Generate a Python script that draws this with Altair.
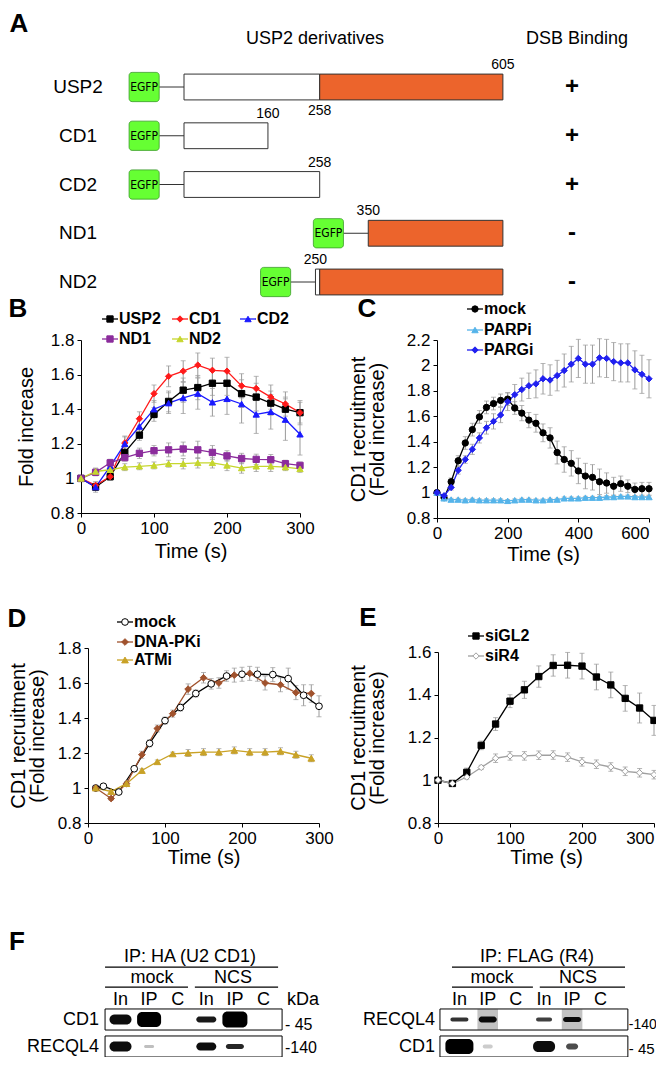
import altair as alt
import pandas as pd

FONT = "Liberation Sans"
NARROW = "Liberation Sans Narrow, DejaVu Sans Condensed, Liberation Sans"
W, H = 648, 1049
ERR = "#9a9a9a"

# ---------------- Panel A data ----------------
constructs = ["USP2", "CD1", "CD2", "ND1", "ND2"]
construct_start = [1, 1, 1, 350, 250]
white_start = [1, 1, 1, None, 250]
white_end = [258, 160, 258, None, 258]
orange_start = [258, None, None, 350, 258]
orange_end = [605, None, None, 605, 605]
dsb_binding = ["+", "+", "+", "-", "-"]
site_construct = ["USP2", "USP2", "CD1", "CD2", "ND1", "ND2"]
site_aa = [605, 258, 160, 258, 350, 250]
site_side = [-1, 1, -1, -1, -1, -1]

# ---------------- Panel B data ----------------
b_names = ["USP2", "CD1", "CD2", "ND1", "ND2"]
b_time = list(range(0, 301, 20))
b_usp2 = [1.0, 0.95, 1.01, 1.15, 1.25, 1.37, 1.445, 1.51, 1.525, 1.55, 1.55, 1.49, 1.47, 1.435, 1.40, 1.38]
b_cd1 = [1.0, 0.96, 1.01, 1.205, 1.345, 1.49, 1.59, 1.62, 1.655, 1.625, 1.62, 1.535, 1.52, 1.47, 1.43, 1.38]
b_cd2 = [1.0, 0.95, 1.07, 1.20, 1.30, 1.40, 1.435, 1.465, 1.49, 1.44, 1.46, 1.43, 1.37, 1.385, 1.34, 1.255]
b_nd1 = [1.0, 1.035, 1.09, 1.12, 1.145, 1.16, 1.165, 1.17, 1.165, 1.15, 1.13, 1.115, 1.11, 1.108, 1.085, 1.075]
b_nd2 = [1.0, 1.04, 1.05, 1.065, 1.07, 1.075, 1.085, 1.085, 1.09, 1.09, 1.075, 1.06, 1.07, 1.07, 1.065, 1.055]
b_err_usp2 = [0, 0.02, 0.02, 0.03, 0.03, 0.04, 0.06, 0.07, 0.07, 0.07, 0.07, 0.08, 0.08, 0.07, 0.07, 0.06]
b_err_cd1 = [0, 0.02, 0.02, 0.04, 0.04, 0.05, 0.06, 0.06, 0.07, 0.07, 0.08, 0.07, 0.07, 0.07, 0.07, 0.07]
b_err_cd2 = [0, 0.03, 0.04, 0.04, 0.04, 0.05, 0.06, 0.09, 0.09, 0.08, 0.09, 0.11, 0.11, 0.10, 0.12, 0.12]
b_err_nd1 = [0, 0.02, 0.02, 0.02, 0.03, 0.03, 0.04, 0.04, 0.05, 0.04, 0.03, 0.03, 0.03, 0.03, 0.02, 0.02]
b_err_nd2 = [0, 0.02, 0.02, 0.02, 0.02, 0.02, 0.02, 0.03, 0.03, 0.03, 0.03, 0.03, 0.03, 0.03, 0.02, 0.02]

# ---------------- Panel C data ----------------
c_names = ["mock", "PARPi", "PARGi"]
c_time = list(range(0, 601, 20))
c_mock = [1.0, 0.96, 1.085, 1.25, 1.39, 1.495, 1.595, 1.67, 1.70, 1.725, 1.735, 1.665, 1.625, 1.57,
          1.545, 1.47, 1.43, 1.315, 1.26, 1.23, 1.17, 1.13, 1.12, 1.085, 1.075, 1.05, 1.07, 1.05,
          1.025, 1.03, 1.03]
c_parpi = [1.0, 0.955, 0.945, 0.945, 0.94, 0.945, 0.94, 0.94, 0.94, 0.94, 0.935, 0.94, 0.945, 0.945,
           0.94, 0.94, 0.945, 0.945, 0.955, 0.955, 0.955, 0.96, 0.96, 0.96, 0.965, 0.965, 0.97, 0.97,
           0.965, 0.965, 0.965]
c_pargi = [1.0, 0.975, 1.04, 1.175, 1.26, 1.34, 1.43, 1.51, 1.56, 1.61, 1.715, 1.77, 1.81, 1.84,
           1.855, 1.895, 1.885, 1.92, 1.96, 2.01, 2.055, 2.01, 2.01, 2.06, 2.055, 2.03, 2.02, 2.02,
           1.965, 1.93, 1.895]
c_err_mock = [0, 0.01, 0.03, 0.04, 0.05, 0.05, 0.05, 0.05, 0.05, 0.05, 0.05, 0.05, 0.06, 0.06, 0.07,
              0.07, 0.08, 0.09, 0.10, 0.10, 0.10, 0.10, 0.10, 0.10, 0.08, 0.07, 0.06, 0.05, 0.05, 0.05, 0.05]
c_err_parpi = [0] + [0.01] * 30
c_err_pargi = [0, 0.01, 0.02, 0.03, 0.03, 0.04, 0.04, 0.05, 0.06, 0.06, 0.07, 0.08, 0.09, 0.10, 0.11,
               0.12, 0.12, 0.12, 0.13, 0.14, 0.15, 0.15, 0.15, 0.15, 0.15, 0.15, 0.15, 0.15, 0.15, 0.15, 0.15]

# ---------------- Panel D data ----------------
d_names = ["mock", "DNA-PKi", "ATMi"]
d_time_mock = [10] + list(range(20, 301, 20))
d_time_inh = list(range(10, 291, 20))
d_mock = [1.0, 1.01, 0.977, 1.11, 1.255, 1.385, 1.46, 1.54, 1.595, 1.64, 1.65, 1.65, 1.648, 1.625, 1.53, 1.467]
d_dnapki = [1.0, 0.94, 1.025, 1.19, 1.34, 1.425, 1.565, 1.63, 1.60, 1.645, 1.655, 1.60, 1.59, 1.545, 1.54]
d_atmi = [1.0, 0.98, 1.025, 1.10, 1.15, 1.195, 1.20, 1.205, 1.205, 1.215, 1.205, 1.205, 1.21, 1.19, 1.17]
d_err_mock = [0, 0.01, 0.01, 0.01, 0.02, 0.02, 0.02, 0.02, 0.03, 0.03, 0.04, 0.04, 0.04, 0.06, 0.06, 0.06]
d_err_dnapki = [0, 0.01, 0.01, 0.02, 0.02, 0.02, 0.03, 0.03, 0.03, 0.04, 0.04, 0.04, 0.04, 0.04, 0.05]
d_err_atmi = [0, 0.01, 0.01, 0.01, 0.01, 0.01, 0.02, 0.02, 0.02, 0.02, 0.02, 0.02, 0.02, 0.02, 0.02]

# ---------------- Panel E data ----------------
e_names = ["siGL2", "siR4"]
e_time = list(range(0, 301, 20))
e_sigl2 = [1.0, 0.985, 1.037, 1.163, 1.263, 1.37, 1.423, 1.485, 1.537, 1.538, 1.534, 1.483, 1.446, 1.383, 1.338, 1.28]
e_sir4 = [1.0, 0.985, 1.015, 1.06, 1.103, 1.114, 1.114, 1.117, 1.118, 1.108, 1.086, 1.075, 1.062, 1.042, 1.035, 1.026]
e_err_sigl2 = [0, 0.01, 0.02, 0.02, 0.03, 0.03, 0.04, 0.05, 0.05, 0.06, 0.06, 0.06, 0.06, 0.06, 0.07, 0.07]
e_err_sir4 = [0, 0.01, 0.01, 0.01, 0.02, 0.02, 0.02, 0.02, 0.02, 0.02, 0.02, 0.02, 0.02, 0.02, 0.02, 0.02]

# ---------------- Panel F data ----------------
f_lane_text = ["In", "IP", "C", "In", "IP", "C"]
f_left_lanes = [0, 1, 2, 3, 4, 5]
f_right_lanes = [11.85, 12.84, 13.82, 14.81, 15.79, 16.78]
f_row_labels = ["CD1", "RECQL4", "RECQL4", "CD1"]
f_row_label_group = ["L", "L", "R", "R"]
f_row_label_row = [0, 1, 0, 1]
f_markers = ["- 45", "-140", "-140", "- 45"]
f_marker_row = [0.2, 1.05, 0.2, 1.08]
f_band_group = ["L"] * 8 + ["R"] * 8
f_band_lane = [0, 1, 3, 4, 0, 1, 3, 4, 0, 1, 3, 4, 0, 1, 3, 4]
f_band_row = [0, 0, 0, 0, 1, 1, 1, 1, 0, 0, 0, 0, 1, 1, 1, 1]
f_band_w = [22, 24, 20, 25, 22, 10, 20, 18, 18, 18, 16, 18, 28, 10, 22, 12]
f_band_h = [10, 15, 6, 16, 10, 3, 8, 5, 4, 6, 4, 5, 15, 4, 11, 6]
f_band_i = [0.95, 1.0, 0.9, 1.0, 0.95, 0.25, 0.95, 0.85, 0.8, 0.95, 0.75, 0.95, 1.0, 0.2, 0.95, 0.7]
f_smear_group = ["R", "R"]
f_smear_lane = [1, 4]
f_smear_row = [0, 0]


# ====================================================================
def tfont(**kw):
    base = dict(font=FONT, color="black")
    base.update(kw)
    return base


# ---------------- Panel A chart ----------------
dfA = pd.DataFrame({"construct": constructs, "row": list(range(len(constructs))),
                    "start": construct_start, "ws": white_start, "we": white_end,
                    "os": orange_start, "oe": orange_end, "dsb": dsb_binding})
xA = alt.Scale(domain=[1, 605], range=[176, 494.9])
yA = alt.Scale(domain=[0, 4], range=[79, 274])
baseA = alt.Chart(dfA).transform_calculate(r1="datum.row - 0.265", r2="datum.row + 0.265",
                                           e1="datum.row - 0.3", e2="datum.row + 0.3",
                                           g1="datum.start - 104", g2="datum.start - 47",
                                           gc="datum.start - 75.5")
a_white = baseA.transform_filter("isValid(datum.ws)").mark_rect(
    fill="white", stroke="#333333", strokeWidth=1).encode(
    x=alt.X("ws:Q", scale=xA, axis=None), x2="we:Q",
    y=alt.Y("r1:Q", scale=yA, axis=None), y2="r2:Q")
a_orange = baseA.transform_filter("isValid(datum.os)").mark_rect(
    fill="#EC642C", stroke="#333333", strokeWidth=1).encode(
    x=alt.X("os:Q", scale=xA, axis=None), x2="oe:Q",
    y=alt.Y("r1:Q", scale=yA, axis=None), y2="r2:Q")
a_link = baseA.mark_rule(color="#333333", strokeWidth=1).encode(
    x=alt.X("g2:Q", scale=xA, axis=None), x2="start:Q",
    y=alt.Y("row:Q", scale=yA, axis=None))
a_egfp = baseA.mark_rect(fill="#66FF33", stroke="#3A9A28", strokeWidth=0.8, cornerRadius=3).encode(
    x=alt.X("g1:Q", scale=xA, axis=None), x2="g2:Q",
    y=alt.Y("e1:Q", scale=yA, axis=None), y2="e2:Q")
a_egfp_t = baseA.mark_text(text="EGFP", **tfont(fontSize=12, font=NARROW)).encode(
    x=alt.X("gc:Q", scale=xA, axis=None), y=alt.Y("row:Q", scale=yA, axis=None))
a_names = baseA.mark_text(**tfont(fontSize=19)).encode(
    x=alt.value(70), y=alt.Y("row:Q", scale=yA, axis=None), text="construct:N")
a_dsb = baseA.mark_text(**tfont(fontSize=24, fontWeight="bold")).encode(
    x=alt.value(564), y=alt.Y("row:Q", scale=yA, axis=None), text="dsb:N")
dfS = pd.DataFrame({"aa": site_aa, "side": site_side,
                    "row": [constructs.index(c) for c in site_construct]})
a_sites = alt.Chart(dfS).transform_calculate(
    ly="datum.row + (datum.side < 0 ? -0.45 : 0.5)", lab="'' + datum.aa").mark_text(
    **tfont(fontSize=14)).encode(
    x=alt.X("aa:Q", scale=xA, axis=None), y=alt.Y("ly:Q", scale=yA, axis=None), text="lab:N")
dfAh = pd.DataFrame({"t": ["USP2 derivatives", "DSB Binding"], "px": [307, 569], "py": [31, 31]})
a_head = alt.Chart(dfAh).mark_text(**tfont(fontSize=18)).encode(
    x=alt.X("px:Q", scale=None, axis=None), y=alt.Y("py:Q", scale=None, axis=None), text="t:N")
panelA = alt.layer(a_white, a_orange, a_link, a_egfp, a_egfp_t, a_names, a_dsb, a_sites, a_head)


# ---------------- line panels ----------------
def line_panel(names, times, values, errors, colors, fills, shapes, size, lay):
    recs = []
    for n, t, v, e in zip(names, times, values, errors):
        for ti, vi, ei in zip(t, v, e):
            recs.append({"s": n, "t": ti, "v": vi, "e": ei})
    df = pd.DataFrame(recs)
    xs = alt.Scale(domain=lay["xdom"], range=lay["xrange"], nice=False, zero=False)
    ys = alt.Scale(domain=lay["ydom"], range=lay["yrange"], nice=False, zero=False)
    common = dict(grid=False, domainColor="black", tickColor="black", labelColor="black",
                  titleColor="black", labelFont=FONT, titleFont=FONT, labelFontSize=17,
                  titleFontSize=20, titleFontWeight="normal", tickSize=4, labelFlush=False,
                  labelOverlap=False, domainWidth=1, tickWidth=1)
    xextra = {}
    if lay.get("last_right") is not None:
        xextra["labelAlign"] = {"condition": {"test": f"datum.value >= {lay['last_right']}",
                                              "value": "right"}, "value": "center"}
    xax = alt.Axis(values=lay["xticks"], title="Time (s)", orient="bottom", offset=lay["xoff"],
                   labelPadding=3, titlePadding=lay["xtp"], **xextra, **common)
    yax = alt.Axis(values=lay["yticks"], format=".1~f", title=lay["ytitle"], orient="left",
                   offset=lay["yoff"], labelPadding=3, titlePadding=lay["ytp"],
                   titleLineHeight=19, **common)

    def X(f):
        return alt.X(f + ":Q", scale=xs, axis=xax)

    def Y(f):
        return alt.Y(f + ":Q", scale=ys, axis=yax)

    col = alt.Scale(domain=names, range=colors)
    fil = alt.Scale(domain=names, range=fills)
    shp = alt.Scale(domain=names, range=shapes)
    base = alt.Chart(df)
    err = base.transform_filter("datum.e > 0").transform_calculate(
        lo="datum.v - datum.e", hi="datum.v + datum.e")
    bars = err.mark_rule(color=ERR, strokeWidth=1).encode(x=X("t"), y=Y("lo"), y2="hi:Q")
    cap_lo = err.mark_tick(color=ERR, thickness=1, size=5, orient="horizontal").encode(x=X("t"), y=Y("lo"))
    cap_hi = err.mark_tick(color=ERR, thickness=1, size=5, orient="horizontal").encode(x=X("t"), y=Y("hi"))
    line = base.mark_line(strokeWidth=1.3).encode(
        x=X("t"), y=Y("v"), color=alt.Color("s:N", scale=col, legend=None))
    pts = base.mark_point(filled=True, opacity=1, fillOpacity=1, strokeWidth=1, size=size).encode(
        x=X("t"), y=Y("v"),
        fill=alt.Fill("s:N", scale=fil, legend=None),
        stroke=alt.Stroke("s:N", scale=col, legend=None),
        shape=alt.Shape("s:N", scale=shp, legend=None))
    leg = pd.DataFrame({"s": names, "lx": lay["leg_x"], "ly": lay["leg_y"]})
    lb = alt.Chart(leg).transform_calculate(a1="datum.lx - 8", a2="datum.lx + 8", tx="datum.lx + 9")
    lrule = lb.mark_rule(strokeWidth=1.3).encode(
        x=alt.X("a1:Q", scale=None, axis=None), x2="a2:Q",
        y=alt.Y("ly:Q", scale=None, axis=None), color=alt.Color("s:N", scale=col, legend=None))
    lpt = lb.mark_point(filled=True, opacity=1, fillOpacity=1, strokeWidth=1, size=size).encode(
        x=alt.X("lx:Q", scale=None, axis=None), y=alt.Y("ly:Q", scale=None, axis=None),
        fill=alt.Fill("s:N", scale=fil, legend=None),
        stroke=alt.Stroke("s:N", scale=col, legend=None),
        shape=alt.Shape("s:N", scale=shp, legend=None))
    ltxt = lb.mark_text(align="left", baseline="middle", **tfont(fontSize=16, fontWeight="bold")).encode(
        x=alt.X("tx:Q", scale=None, axis=None), y=alt.Y("ly:Q", scale=None, axis=None), text="s:N")
    return alt.layer(bars, cap_lo, cap_hi, line, pts, lrule, lpt, ltxt)


panelB = line_panel(
    b_names, [b_time] * 5, [b_usp2, b_cd1, b_cd2, b_nd1, b_nd2],
    [b_err_usp2, b_err_cd1, b_err_cd2, b_err_nd1, b_err_nd2],
    ["#000000", "#FF1A1A", "#1A1AFF", "#8B2C9C", "#C6D62E"],
    ["#000000", "#FF1A1A", "#1A1AFF", "#8B2C9C", "#C6D62E"],
    ["square", "diamond", "triangle-up", "square", "triangle-up"], 40,
    dict(xdom=[0, 300], xrange=[73, 292], ydom=[0.8, 1.8], yrange=[505, 332],
         xticks=[0, 100, 200, 300], yticks=[0.8, 1.0, 1.2, 1.4, 1.6, 1.8],
         ytitle="Fold increase", xoff=505 - H, yoff=-73, ytp=14, xtp=5,
         leg_x=[102, 172, 240, 102, 172], leg_y=[311, 311, 311, 331, 331]))

panelC = line_panel(
    c_names, [c_time] * 3, [c_mock, c_parpi, c_pargi], [c_err_mock, c_err_parpi, c_err_pargi],
    ["#000000", "#55B4EA", "#2020F0"], ["#000000", "#55B4EA", "#2020F0"],
    ["circle", "triangle-up", "diamond"], 40,
    dict(xdom=[0, 600], xrange=[429, 641], ydom=[0.8, 2.2], yrange=[510, 332],
         xticks=[0, 200, 400, 600], yticks=[0.8, 1.0, 1.2, 1.4, 1.6, 1.8, 2.0, 2.2],
         ytitle=["CD1 recruitment", "(Fold increase)"], xoff=510 - H, yoff=-429, ytp=19, xtp=3,
         last_right=600, leg_x=[467, 467, 467], leg_y=[301, 322, 342]))

panelD = line_panel(
    d_names, [d_time_mock, d_time_inh, d_time_inh], [d_mock, d_dnapki, d_atmi],
    [d_err_mock, d_err_dnapki, d_err_atmi],
    ["#000000", "#A0522D", "#C9A227"], ["#FFFFFF", "#A0522D", "#C9A227"],
    ["circle", "diamond", "triangle-up"], 45,
    dict(xdom=[0, 300], xrange=[80, 311], ydom=[0.8, 1.8], yrange=[815, 640],
         xticks=[0, 100, 200, 300], yticks=[0.8, 1.0, 1.2, 1.4, 1.6, 1.8],
         ytitle=["CD1 recruitment", "(Fold increase)"], xoff=815 - H, yoff=-80, ytp=10, xtp=1,
         leg_x=[117, 117, 117], leg_y=[614, 634, 652]))

panelE = line_panel(
    e_names, [e_time] * 2, [e_sigl2, e_sir4], [e_err_sigl2, e_err_sir4],
    ["#000000", "#A0A0A0"], ["#000000", "#FFFFFF"],
    ["square", "diamond"], 40,
    dict(xdom=[0, 300], xrange=[430, 646], ydom=[0.8, 1.6], yrange=[815, 644],
         xticks=[0, 100, 200, 300], yticks=[0.8, 1.0, 1.2, 1.4, 1.6],
         ytitle=["CD1 recruitment", "(Fold increase)"], xoff=815 - H, yoff=-430, ytp=20, xtp=1,
         last_right=300, leg_x=[468, 468], leg_y=[628, 648]))

# ---------------- Panel F chart ----------------
xF = alt.Scale(domain=[0, 5], range=[112.5, 255.5])
yF = alt.Scale(domain=[0, 1], range=[1011.5, 1038.5])
LANE_PX, ROW_PX = 28.6, 27.0
group_lanes = {"L": f_left_lanes, "R": f_right_lanes}


def FX(f):
    return alt.X(f + ":Q", scale=xF, axis=None)


def FY(f):
    return alt.Y(f + ":Q", scale=yF, axis=None)


dfBand = pd.DataFrame({"lane": [group_lanes[g][k] for g, k in zip(f_band_group, f_band_lane)],
                       "row": f_band_row, "w": f_band_w, "h": f_band_h, "i": f_band_i})
f_bands = alt.Chart(dfBand).transform_calculate(
    x1=f"datum.lane - datum.w / {2 * LANE_PX}", x2=f"datum.lane + datum.w / {2 * LANE_PX}",
    y1=f"datum.row - datum.h / {2 * ROW_PX}", y2=f"datum.row + datum.h / {2 * ROW_PX}").mark_rect(
    color="black", cornerRadius=5).encode(
    x=FX("x1"), x2="x2:Q", y=FY("y1"), y2="y2:Q", opacity=alt.Opacity("i:Q", scale=None))
dfSmear = pd.DataFrame({"lane": [group_lanes[g][k] for g, k in zip(f_smear_group, f_smear_lane)],
                        "row": f_smear_row})
f_smear = alt.Chart(dfSmear).transform_calculate(
    x1="datum.lane - 0.36", x2="datum.lane + 0.36", y1="datum.row - 0.38", y2="datum.row + 0.38").mark_rect(
    color="#777777", opacity=0.45).encode(x=FX("x1"), x2="x2:Q", y=FY("y1"), y2="y2:Q")
dfBox = pd.DataFrame({"x1": [-0.54, -0.54, 11.17, 11.17], "x2": [5.65, 5.65, 17.74, 17.74],
                      "row": [0, 1, 0, 1]})
f_box = alt.Chart(dfBox).transform_calculate(y1="datum.row - 0.39", y2="datum.row + 0.39").mark_rect(
    fillOpacity=0, stroke="black", strokeWidth=1).encode(x=FX("x1"), x2="x2:Q", y=FY("y1"), y2="y2:Q")
dfLane = pd.DataFrame({"t": f_lane_text * 2, "lane": f_left_lanes + f_right_lanes})
f_lanes = alt.Chart(dfLane).transform_calculate(y="-0.72").mark_text(**tfont(fontSize=18)).encode(
    x=FX("lane"), y=FY("y"), text="t:N")
dfHead = pd.DataFrame({"t": ["IP: HA (U2 CD1)", "mock", "NCS", "IP: FLAG (R4)", "mock", "NCS", "kDa"],
                       "x": [2.43, 1.1, 3.93, 14.56, 12.99, 16.0, 6.38],
                       "y": [-2.31, -1.54, -1.54, -2.31, -1.54, -1.54, -0.72]})
f_head = alt.Chart(dfHead).mark_text(**tfont(fontSize=18)).encode(x=FX("x"), y=FY("y"), text="t:N")
dfUl = pd.DataFrame({"x1": [-0.54, -0.54, 2.6, 11.59, 11.59, 14.66],
                     "x2": [5.51, 2.36, 5.51, 17.64, 14.42, 17.64],
                     "y": [-1.94, -1.2, -1.2, -1.94, -1.2, -1.2]})
f_ul = alt.Chart(dfUl).mark_rule(color="black", strokeWidth=1.2).encode(x=FX("x1"), x2="x2:Q", y=FY("y"))
dfRL = pd.DataFrame({"t": f_row_labels, "row": f_row_label_row,
                     "x": [-0.75 if g == "L" else 11.0 for g in f_row_label_group]})
f_rl = alt.Chart(dfRL).mark_text(align="right", **tfont(fontSize=18)).encode(x=FX("x"), y=FY("row"), text="t:N")
dfMk = pd.DataFrame({"t": f_markers, "row": f_marker_row, "x": [5.75, 5.75, 17.77, 17.77],
                     "fs": [16, 16, 14, 15]})
f_mk = alt.Chart(dfMk).mark_text(align="left", **tfont()).encode(
    x=FX("x"), y=FY("row"), text="t:N", size=alt.Size("fs:Q", scale=None, legend=None))
panelF = alt.layer(f_smear, f_bands, f_box, f_lanes, f_head, f_ul, f_rl, f_mk)

# ---------------- panel letters ----------------
dfL = pd.DataFrame({"t": ["A", "B", "C", "D", "E", "F"],
                    "px": [11, 10, 359, 9, 360, 9], "py": [16, 301, 301, 611, 610, 934]})
letters = alt.Chart(dfL).mark_text(**tfont(fontSize=26, fontWeight="bold")).encode(
    x=alt.X("px:Q", scale=None, axis=None), y=alt.Y("py:Q", scale=None, axis=None), text="t:N")

chart = alt.layer(panelA, panelB, panelC, panelD, panelE, panelF, letters).resolve_scale(
    x="independent", y="independent", color="independent", fill="independent",
    stroke="independent", shape="independent", size="independent").properties(
    width=W, height=H, padding=0, autosize=alt.AutoSizeParams(type="none")
).configure(font=FONT).configure_view(stroke=None)

chart.save("out.html", embed_options={"renderer": "svg", "actions": False})
